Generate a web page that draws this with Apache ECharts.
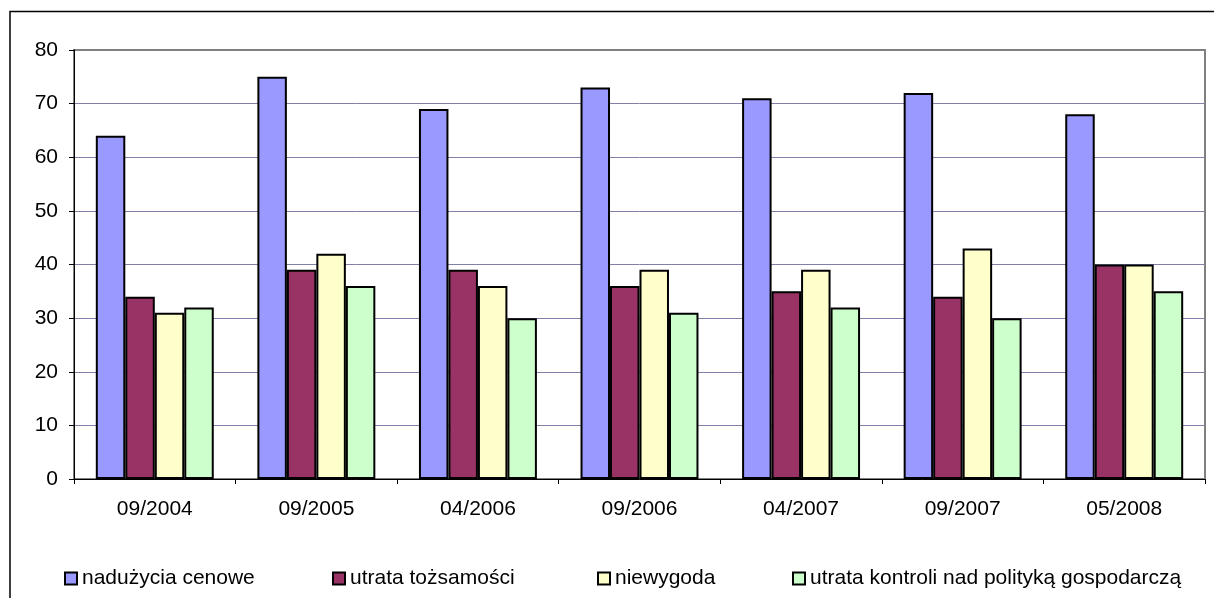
<!DOCTYPE html>
<html>
<head>
<meta charset="utf-8">
<script src="https://cdn.jsdelivr.net/npm/echarts@6/dist/echarts.min.js"></script>
<style>
  html, body { margin: 0; padding: 0; background: #fff; }
  #chart { width: 1214px; height: 598px; }
</style>
</head>
<body>
<div id="chart"></div>
<script>
// Survey waves
const categories = ['09/2004', '09/2005', '04/2006', '09/2006', '04/2007', '09/2007', '05/2008'];

// Series names
const seriesNames = [
  'nadużycia cenowe',
  'utrata tożsamości',
  'niewygoda',
  'utrata kontroli nad polityką gospodarczą'
];

// Values per series (percent)
const naduzycia = [64, 75, 69, 73, 71, 72, 68];
const tozsamosc = [34, 39, 39, 36, 35, 34, 40];
const niewygoda = [31, 42, 36, 39, 39, 43, 40];
const kontrola = [32, 36, 30, 31, 32, 30, 35];

// Y axis range
const yMin = 0, yMax = 80, yStep = 10;

const seriesData = [naduzycia, tozsamosc, niewygoda, kontrola];
const colors = ['#9999FF', '#993366', '#FFFFCC', '#CCFFCC'];
const legendLeft = [59, 327, 592, 787];
const FONT = 'Liberation Sans, Arial, sans-serif';
const FS = 21;

const chart = echarts.init(document.getElementById('chart'), null, { renderer: 'canvas' });

chart.setOption({
  animation: false,
  backgroundColor: '#ffffff',
  graphic: [{
    type: 'rect',
    z: 100,
    shape: { x: 10, y: 11.5, width: 1300, height: 700 },
    style: { fill: 'none', stroke: '#000', lineWidth: 1.5 }
  }],
  grid: {
    left: 74, top: 50, right: 9, bottom: 119,
    show: true, borderColor: '#808080', borderWidth: 2
  },
  legend: seriesNames.map((n, i) => ({
    data: [n],
    left: legendLeft[i],
    top: 563,
    itemWidth: 12, itemHeight: 12, itemGap: 0,
    icon: 'rect',
    textStyle: { fontFamily: FONT, fontSize: FS, color: '#000' },
    itemStyle: { borderColor: '#000', borderWidth: 2 }
  })),
  xAxis: {
    type: 'category',
    data: categories,
    axisLine: { lineStyle: { color: '#000', width: 1 } },
    axisTick: { show: true, length: 5, lineStyle: { color: '#000' } },
    axisLabel: { fontFamily: FONT, fontSize: FS, color: '#000', margin: 20 }
  },
  yAxis: {
    type: 'value',
    min: yMin, max: yMax, interval: yStep,
    axisLine: { show: true, lineStyle: { color: '#000', width: 1 } },
    axisTick: { show: true, length: 5, lineStyle: { color: '#000' } },
    axisLabel: { fontFamily: FONT, fontSize: FS, color: '#000', margin: 16 },
    splitLine: { showMaxLine: false, lineStyle: { color: '#8080A8', width: 1 } }
  },
  series: seriesNames.map((n, i) => ({
    name: n,
    type: 'bar',
    data: seriesData[i],
    barGap: '0%',
    barCategoryGap: '27%',
    itemStyle: { color: colors[i], borderColor: '#000', borderWidth: 2 }
  }))
});
</script>
</body>
</html>
